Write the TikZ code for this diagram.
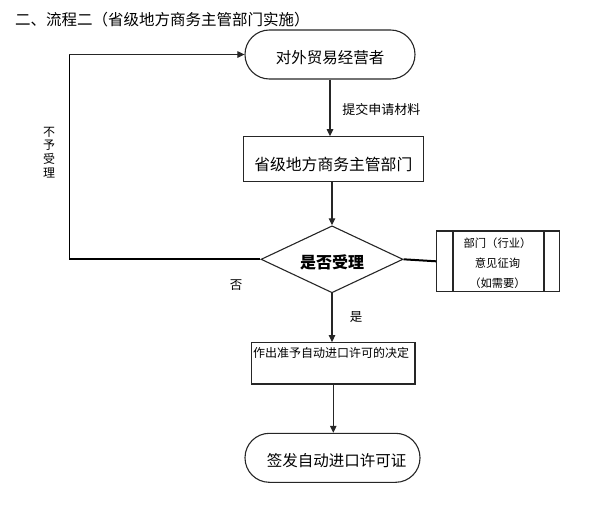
\documentclass[tikz,border=0pt]{standalone}
\usepackage{fontspec}
\setmainfont{Noto Sans CJK SC}
\usetikzlibrary{arrows.meta,shapes.geometric}
\newcommand{\dnshift}[2]{\raisebox{-#1}[\height][\depth]{#2}}
\begin{document}
\begin{tikzpicture}[x=1pt,y=-1pt,
  line/.style={draw=black!85,line width=1.2pt},
  arr/.style={line,-{Triangle[length=7pt,width=6.5pt]}},
  thickline/.style={draw=black,line width=2pt},
  thinline/.style={draw=black,line width=0.9pt},
  term/.style={draw=black!85,line width=1.1pt,rounded corners=24.4pt,inner sep=0pt,
    font=\fontsize{15.5}{18}\selectfont},
  boxs/.style={draw=black!85,line width=1.1pt,inner sep=0pt},
  lab/.style={inner sep=0pt,font=\fontsize{13}{15}\selectfont}]
\useasboundingbox (0,0) rectangle (609,523);
% title
\node[anchor=west,inner sep=0pt,font=\fontsize{15.5}{18}\selectfont] (title) at (15,20)
  {二、流程二（省级地方商务主管部门实施）};
% nodes
\node[term,minimum width=170pt,minimum height=49pt] (t1) at (330,54.5) {\dnshift{3.5pt}{对外贸易经营者}};
\node[boxs,minimum width=180pt,minimum height=45pt,font=\fontsize{15.8}{18}\selectfont] (b2) at (333.3,159.2)
  {\dnshift{5.5pt}{省级地方商务主管部门}};
\node[diamond,aspect=2.12,draw=black!85,line width=1.1pt,inner sep=0pt,minimum width=142pt,minimum height=67pt,
  font=\fontsize{16}{18}\selectfont\bfseries] (d) at (332,259.3) {\dnshift{3.4pt}{是否受理}};
\node[boxs,minimum width=122.3pt,minimum height=60.7pt] (r) at (497.9,261.3) {};
\draw[line width=1.1pt,draw=black!85] (453,231) -- (453,291.7) (544,231) -- (544,291.7);
\node[inner sep=0pt,align=center,font=\fontsize{11.3}{20}\selectfont] (rt) at (497.5,263.3)
  {部门（行业）\\意见征询\\（如需要）};
\node[boxs,minimum width=163.3pt,minimum height=41.3pt] (b4) at (333.3,363.3) {};
\node[inner sep=0pt,font=\fontsize{12}{14}\selectfont] (b4t) at (331,353.3) {作出准予自动进口许可的决定};
\node[term,minimum width=175pt,minimum height=49pt] (t2) at (332.5,457.8) {\hspace{8pt}\dnshift{3pt}{签发自动进口许可证}};
% labels
\node[lab] (l1) at (381.3,109.3) {提交申请材料};
\node[lab,font=\fontsize{12.5}{15}\selectfont] (l2) at (356,317) {是};
\node[lab,font=\fontsize{12.5}{15}\selectfont] (l3) at (236,285) {否};
\node[inner sep=0pt,align=center,font=\fontsize{12}{13.7}\selectfont] (l4) at (49,152.5) {不\\予\\受\\理};
% connectors
\draw[arr] (t1.south) -- (t1.south |- b2.north);
\draw[arr] (b2.south -| d.north) -- (d.north);
\draw[arr] (d.south) -- (d.south |- b4.north);
\draw[arr] (b4.south) -- (b4.south |- t2.north);
\coordinate (lc) at (69.3,259.3);
\draw[thickline] (d.west) -- (lc);
\draw[thinline] (lc) -- (lc |- t1.west);
\draw[arr,line width=1pt] (lc |- t1.west) -- (t1.west);
\draw[thickline] (d.east) -- (r.west);
\end{tikzpicture}
\end{document}
